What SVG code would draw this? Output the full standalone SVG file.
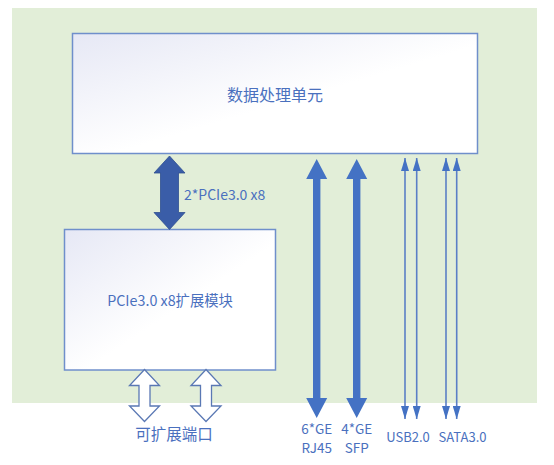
<svg xmlns="http://www.w3.org/2000/svg" width="554" height="465" viewBox="0 0 554 465">
<defs>
<linearGradient id="boxGrad" x1="0" y1="0" x2="1" y2="1">
<stop offset="0" stop-color="#E6E8F5"/>
<stop offset="0.55" stop-color="#FFFFFF"/>
<stop offset="1" stop-color="#FFFFFF"/>
</linearGradient>
<marker id="head" viewBox="0 0 13 8" refX="13" refY="4" markerWidth="13" markerHeight="8" markerUnits="userSpaceOnUse" orient="auto-start-reverse">
<path d="M0,0 L13,4 L0,8 Z" fill="#4472C4"/>
</marker>
<style>
.box{fill:url(#boxGrad);stroke:#6F8FCB;stroke-width:1.5}
.lbl{font-family:"Noto Sans CJK SC","Noto Sans",sans-serif;fill:#4A70BE;text-anchor:middle}
.thin{stroke:#5B7FC6;stroke-width:1.6;fill:none;marker-start:url(#head);marker-end:url(#head)}
.thick{fill:#4472C4}
.hollow{fill:#FFFFFF;stroke:#5A78B4;stroke-width:1.3}
</style>
</defs>
<rect x="12" y="8" width="525" height="395" fill="#E2EED8"/>
<g id="node-dpu">
<rect class="box" x="72.5" y="33.5" width="405" height="120"/>
<text class="lbl" x="275" y="101" font-size="16">数据处理单元</text>
</g>
<g id="node-pcie">
<rect class="box" x="64.5" y="229.5" width="211" height="140.5"/>
<text class="lbl" x="170" y="306" font-size="14.3">PCIe3.0 x8扩展模块</text>
</g>
<g id="connectors">
<path d="M169.5,156 L185,173 L178.5,173 L178.5,212.5 L185,212.5 L169.5,229.5 L154,212.5 L160.5,212.5 L160.5,173 L154,173 Z" fill="#3A5DA8" stroke="#2F4F90" stroke-width="0.8"/>
<path class="thick" d="M316.7,159 L327.2,179 L320.4,179 L320.4,398 L327.2,398 L316.7,418 L306.2,398 L313,398 L313,179 L306.2,179 Z"/>
<path class="thick" d="M356.7,159 L367.2,179 L360.4,179 L360.4,398 L367.2,398 L356.7,418 L346.2,398 L353,398 L353,179 L346.2,179 Z"/>
<line class="thin" x1="405" y1="158" x2="405" y2="419"/>
<line class="thin" x1="416.7" y1="158" x2="416.7" y2="419"/>
<line class="thin" x1="446" y1="158" x2="446" y2="419"/>
<line class="thin" x1="456.7" y1="158" x2="456.7" y2="419"/>
<path class="hollow" d="M144.5,369.5 L159.5,385.5 L150,385.5 L150,406 L159.5,406 L144.5,421.5 L129.5,406 L139,406 L139,385.5 L129.5,385.5 Z"/>
<path class="hollow" d="M206,369.5 L221,385.5 L211.5,385.5 L211.5,406 L221,406 L206,421.5 L191,406 L200.5,406 L200.5,385.5 L191,385.5 Z"/>
<text class="lbl" x="184" y="200" font-size="14" style="text-anchor:start">2*PCIe3.0 x8</text>
<text class="lbl" x="174" y="440" font-size="15.5">可扩展端口</text>
<text class="lbl" x="316.7" y="434" font-size="13.5">6*GE</text>
<text class="lbl" x="316.7" y="453" font-size="13.5">RJ45</text>
<text class="lbl" x="356.7" y="434" font-size="13.5">4*GE</text>
<text class="lbl" x="356.7" y="453" font-size="13.5">SFP</text>
<text class="lbl" x="408" y="441.5" font-size="13">USB2.0</text>
<text class="lbl" x="462.5" y="441.5" font-size="13">SATA3.0</text>
</g>
</svg>
